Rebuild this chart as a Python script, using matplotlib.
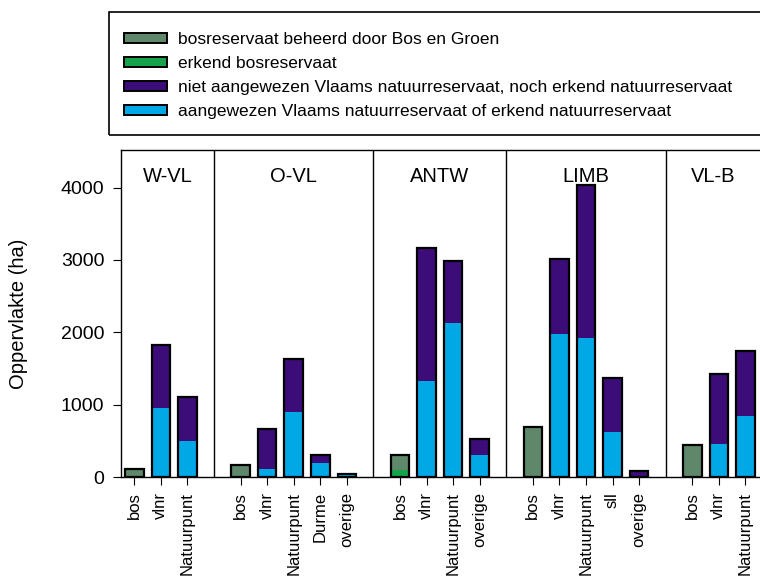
import numpy as np
import matplotlib.pyplot as plt
from matplotlib.patches import Patch, Rectangle

plt.rcParams['font.family'] = ['Liberation Sans', 'DejaVu Sans']

# regions and the bar categories inside each panel
regions = ["W-VL", "O-VL", "ANTW", "LIMB", "VL-B"]
region_cats = [
    ["bos", "vlnr", "Natuurpunt"],
    ["bos", "vlnr", "Natuurpunt", "Durme", "overige"],
    ["bos", "vlnr", "Natuurpunt", "overige"],
    ["bos", "vlnr", "Natuurpunt", "sll", "overige"],
    ["bos", "vlnr", "Natuurpunt"],
]

# stacked components (ha), same order as region_cats
bos_bg = [[110, 0, 0], [165, 0, 0, 0, 0], [200, 0, 0, 0], [690, 0, 0, 0, 0], [440, 0, 0]]
erkend_bos = [[0, 0, 0], [0, 0, 0, 0, 0], [100, 0, 0, 0], [0, 0, 0, 0, 0], [0, 0, 0]]
aangewezen = [[0, 955, 500], [0, 110, 900, 195, 45], [0, 1330, 2130, 300],
              [0, 1980, 1920, 620, 0], [0, 450, 840]]
niet_aangewezen = [[0, 875, 610], [0, 555, 730, 105, 0], [0, 1835, 860, 225],
                   [0, 1035, 2120, 750, 80], [0, 980, 900]]

series_labels = ["bosreservaat beheerd door Bos en Groen", "erkend bosreservaat",
                 "niet aangewezen Vlaams natuurreservaat, noch erkend natuurreservaat",
                 "aangewezen Vlaams natuurreservaat of erkend natuurreservaat"]
colors = ["#5f876a", "#17a34a", "#3c0c78", "#00a8e6"]

fig = plt.figure(figsize=(7.6, 5.82), dpi=100)
ax = fig.add_axes([121 / 760, 1 - 477 / 582, 1 - 121 / 760, (477 - 150) / 582])

# positions: one slot per bar, one empty slot between regions
pos, labels, dividers = [], [], []
x = 0
for cats in region_cats:
    for c in cats:
        pos.append(x)
        labels.append(c)
        x += 1
    dividers.append(x)
    x += 1
pos = np.array(pos)

flat = lambda s: np.array([v for grp in s for v in grp], dtype=float)
b1, b2, b3, b4 = flat(bos_bg), flat(erkend_bos), flat(aangewezen), flat(niet_aangewezen)

w = 0.7
kw = dict(width=w, edgecolor="none")
ax.bar(pos, b2, color=colors[1], **kw)
ax.bar(pos, b1, bottom=b2, color=colors[0], **kw)
ax.bar(pos, b3, color=colors[3], **kw)
ax.bar(pos, b4, bottom=b3, color=colors[2], **kw)
tot = b1 + b2 + b3 + b4
ax.bar(pos, tot, width=w, fill=False, edgecolor="black", linewidth=1.6)

xmax = 23.55
ax.set_xlim(-0.5, xmax)
ax.set_ylim(0, 4520)
for d in dividers[:-1]:
    ax.axvline(d, color="black", linewidth=1.0)

lefts = [-0.5] + dividers[:-1]
rights = dividers[:-1] + [xmax]
for name, l, r in zip(regions, lefts, rights):
    ax.text((l + r) / 2, 4160, name, ha="center", va="center", fontsize=14.5)

ax.set_xticks(pos)
ax.set_xticklabels(labels, rotation=90, fontsize=12)
ax.set_yticks([0, 1000, 2000, 3000, 4000])
ax.tick_params(axis="y", labelsize=14, length=6, pad=6)
ax.tick_params(axis="x", length=6, pad=5)
ax.set_ylabel("Oppervlakte (ha)", fontsize=14.5)
ax.yaxis.set_label_coords(-0.145, 0.5)
ax.spines["right"].set_visible(False)
for s in ax.spines.values():
    s.set_linewidth(1.0)

# legend inside a box that runs off the right edge
fig.patches.append(Rectangle((109 / 760, 1 - 135 / 582), 0.95, 123 / 582,
                             transform=fig.transFigure, fill=False,
                             edgecolor="black", linewidth=1.2))
handles = [Patch(facecolor=c, edgecolor="black", linewidth=1.4) for c in colors]
fig.legend(handles, series_labels, loc="upper left",
           bbox_to_anchor=(124 / 760, 1 - 32 / 582), frameon=False, fontsize=12.5,
           handlelength=2.5, handleheight=0.55, handletextpad=0.6,
           labelspacing=0.52, borderpad=0, borderaxespad=0)

fig.savefig("out.png", dpi=100)
